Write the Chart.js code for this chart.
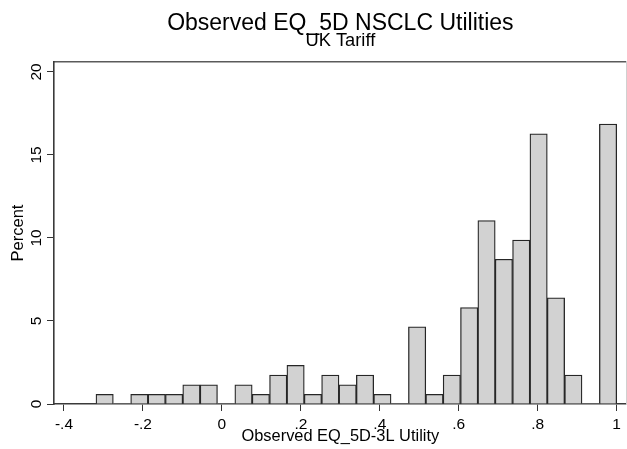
<!DOCTYPE html>
<html><head><meta charset="utf-8">
<script src="https://cdn.jsdelivr.net/npm/chart.js"></script>
<style>html,body{margin:0;padding:0;background:#fff}</style>
</head><body>
<canvas id="c" width="627" height="449"></canvas>
<script>
// Histogram bins: 30 bins from -0.319 to 1.0
const binStart = -0.319;
const binWidth = 0.04397;
const percentValues = [0.58, 0, 0.58, 0.58, 0.58, 1.16, 1.16, 0, 1.16, 0.58,
                       1.74, 2.33, 0.58, 1.74, 1.16, 1.74, 0.58, 0, 4.65, 0.58,
                       1.74, 5.81, 11.05, 8.72, 9.88, 16.28, 6.40, 1.74, 0, 16.86];
const xTickValues = [-0.4, -0.2, 0, 0.2, 0.4, 0.6, 0.8, 1];
const xTickLabels = ['-.4', '-.2', '0', '.2', '.4', '.6', '.8', '1'];
const yTickValues = [0, 5, 10, 15, 20];
const yTickLabels = ['0', '5', '10', '15', '20'];

const binCenters = percentValues.map((_, i) => binStart + binWidth * (i + 0.5));
const points = binCenters.map((x, i) => ({x: x, y: percentValues[i]}));

const FONT = "'Liberation Sans', Arial, Helvetica, sans-serif";
const X_MIN = -0.4253, X_MAX = 1.0253;

new Chart(document.getElementById('c'), {
  type: 'bar',
  data: {
    datasets: [{
      data: points,
      backgroundColor: '#d2d2d2',
      borderColor: '#262626',
      borderWidth: (ctx) => (ctx.raw && ctx.raw.y > 0) ? 1.3 : 0,
      borderSkipped: 'start',
      barPercentage: 1,
      categoryPercentage: 1,
      xAxisID: 'x',
      yAxisID: 'y'
    }]
  },
  options: {
    responsive: false,
    animation: false,
    devicePixelRatio: 1,
    layout: {padding: 0},
    plugins: {
      legend: {display: false},
      tooltip: {enabled: false}
    },
    scales: {
      x: {
        type: 'linear', position: 'bottom', offset: false,
        min: X_MIN, max: X_MAX,
        afterBuildTicks: (s) => { s.ticks = xTickValues.map(v => ({value: v})); },
        afterFit: (s) => { s.height = 45; },
        ticks: {
          color: '#000', padding: 6, maxRotation: 0, minRotation: 0,
          font: {family: FONT, size: 15.5, lineHeight: 1},
          callback: (v, i) => xTickLabels[i]
        },
        grid: {display: true, offset: false, drawOnChartArea: false, drawTicks: true, tickLength: 7, color: '#333', lineWidth: 1},
        border: {display: true, color: '#3a3a3a', width: 1.6},
        title: {
          display: true, text: 'Observed EQ_5D-3L Utility', color: '#000',
          font: {family: FONT, size: 16.4, lineHeight: 1},
          padding: {top: 0, bottom: 4.5}
        }
      },
      xMain: {
        type: 'linear', position: 'top', weight: 2, min: X_MIN, max: X_MAX, offset: false,
        afterFit: (s) => { s.height = 31; },
        ticks: {display: false},
        grid: {display: false, drawTicks: false},
        border: {display: false},
        title: {
          display: true, text: 'Observed EQ_5D NSCLC Utilities', color: '#000',
          font: {family: FONT, size: 23, lineHeight: 1},
          padding: {top: 12, bottom: 0}
        }
      },
      xSub: {
        type: 'linear', position: 'top', weight: 1, min: X_MIN, max: X_MAX, offset: false,
        afterFit: (s) => { s.height = 31; },
        ticks: {display: false},
        grid: {display: false, drawTicks: false},
        border: {display: true, color: '#5a5a5a', width: 1.4},
        title: {
          display: true, text: 'UK Tariff', color: '#000',
          font: {family: FONT, size: 18.3, lineHeight: 1},
          padding: {top: 1, bottom: 0}
        }
      },
      y: {
        type: 'linear', position: 'left', min: 0, max: 20.6,
        afterBuildTicks: (s) => { s.ticks = yTickValues.map(v => ({value: v})); },
        afterFit: (s) => { s.width = 54; },
        ticks: {
          color: '#000', padding: 1.2, minRotation: 90, maxRotation: 90, crossAlign: 'center',
          font: {family: FONT, size: 15.5, lineHeight: 1},
          callback: (v, i) => yTickLabels[i]
        },
        grid: {display: true, drawOnChartArea: false, drawTicks: true, tickLength: 7, color: '#333', lineWidth: 1},
        border: {display: true, color: '#3a3a3a', width: 1.6},
        title: {
          display: true, text: 'Percent', color: '#000',
          font: {family: FONT, size: 16.5, lineHeight: 1},
          padding: {top: 10, bottom: 0}
        }
      },
      yRight: {
        type: 'linear', position: 'right', min: 0, max: 20.6,
        afterFit: (s) => { s.width = 0; },
        ticks: {display: false},
        grid: {display: false, drawTicks: false},
        border: {display: true, color: '#d0d0d0', width: 2}
      }
    }
  }
});
</script>
</body></html>
